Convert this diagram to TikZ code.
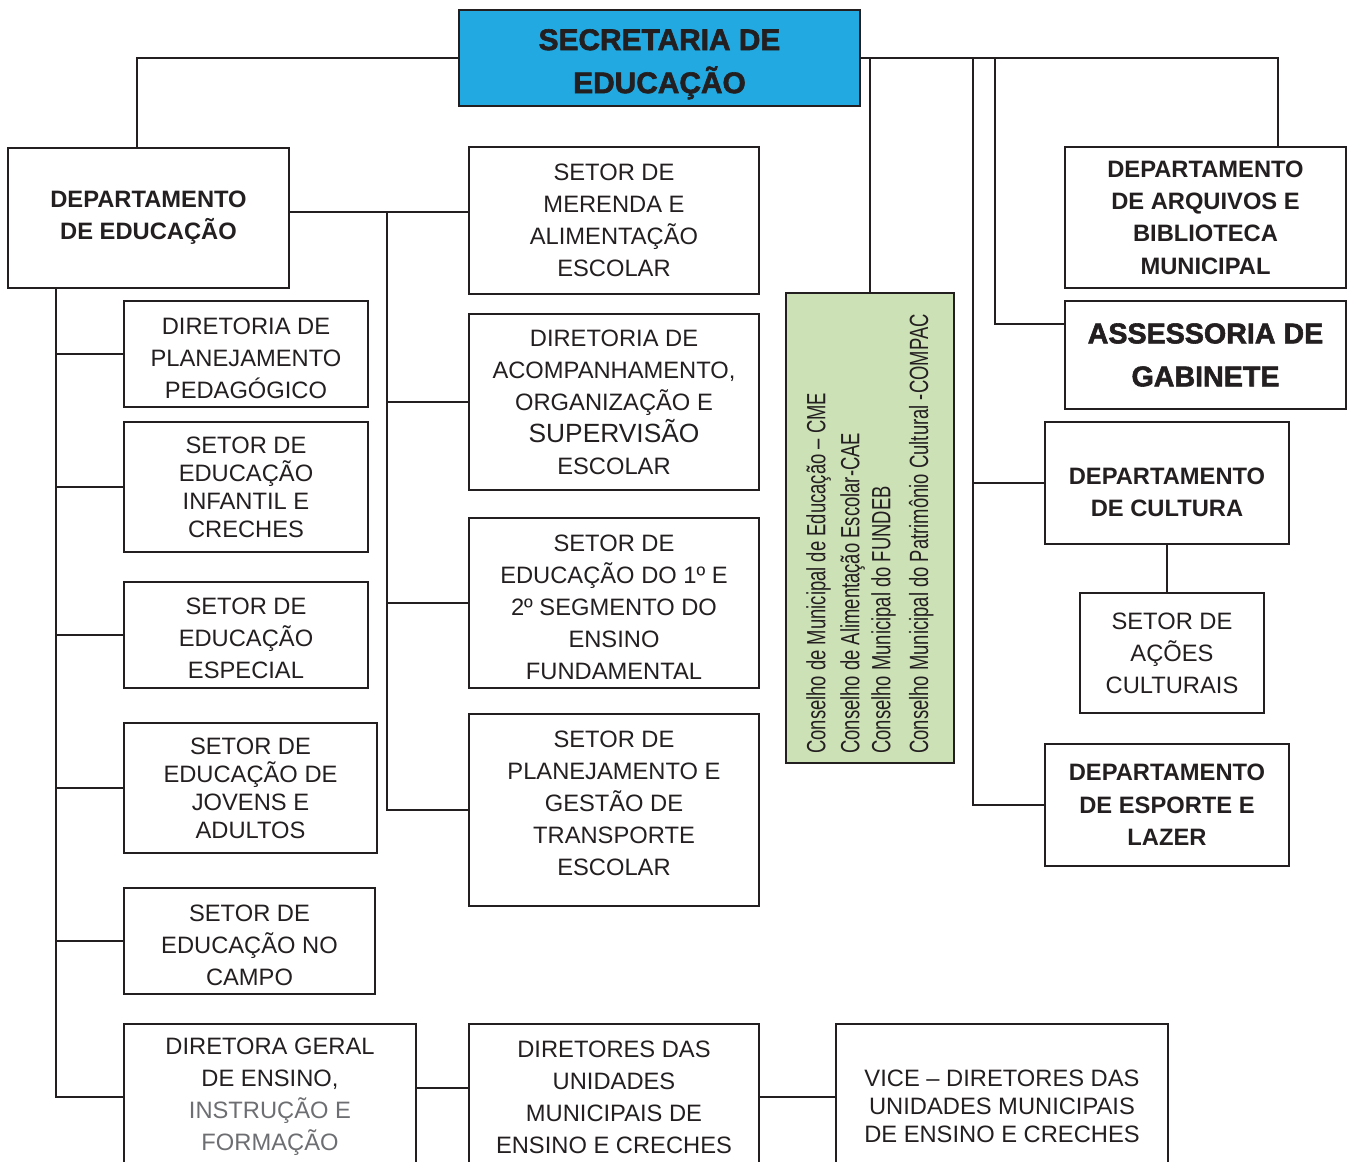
\documentclass[tikz,border=0pt]{standalone}
\usepackage{fontspec}
\setmainfont{Liberation Sans}
\newfontfamily\heavyfont[FakeBold=2]{Liberation Sans Bold}
\newfontfamily\narrowfont[FakeStretch=0.70]{Liberation Sans}
\definecolor{ink}{HTML}{231F20}
\definecolor{secblue}{HTML}{22A9E1}
\definecolor{consgreen}{HTML}{CDE1B6}
\definecolor{softgray}{HTML}{6D6E71}
\begin{document}
\begin{tikzpicture}[x=0.02cm, y=-0.02cm, line width=1pt, color=ink,
    every node/.style={draw=ink, line width=1pt, rectangle, align=center, inner sep=0pt, text=ink},
    regular/.style={font=\fontsize{13.5}{18.2}\selectfont},
    tight/.style={font=\fontsize{13.5}{15.9}\selectfont},
    dept/.style={font=\fontsize{13.5}{18.4}\selectfont\bfseries},
    heavy/.style={font=\fontsize{17}{24.5}\selectfont\heavyfont}]
    \clip (0,0) rectangle (1349,1162);

    % Nodes
    \node[heavy, fill=secblue, minimum width=8.02cm, minimum height=1.92cm] at (659.5, 58) (sec) {\rule{0pt}{19pt}SECRETARIA DE\\ EDUCAÇÃO};

    \node[dept, minimum width=5.62cm, minimum height=2.8cm] at (148.5, 218) (depEdu) {DEPARTAMENTO\\ DE EDUCAÇÃO};
    \node[regular, minimum width=4.88cm, minimum height=2.12cm] at (246, 354) (plan) {\rule{0pt}{14pt}DIRETORIA DE\\ PLANEJAMENTO\\ PEDAGÓGICO};
    \node[tight, minimum width=4.88cm, minimum height=2.6cm] at (246, 487) (inf) {SETOR DE\\ EDUCAÇÃO\\ INFANTIL E\\ CRECHES};
    \node[regular, minimum width=4.88cm, minimum height=2.12cm] at (246, 635) (espec) {\rule{0pt}{13pt}SETOR DE\\ EDUCAÇÃO\\ ESPECIAL};
    \node[tight, minimum width=5.06cm, minimum height=2.6cm] at (250.5, 788) (jov) {SETOR DE\\ EDUCAÇÃO DE\\ JOVENS E\\ ADULTOS};
    \node[regular, minimum width=5.02cm, minimum height=2.12cm] at (249.5, 941) (campo) {\rule{0pt}{14pt}SETOR DE\\ EDUCAÇÃO NO\\ CAMPO};
    \node[regular, minimum width=5.84cm, minimum height=2.92cm] at (270, 1097) (geral) {DIRETORA GERAL\\ DE ENSINO,\\ {\color{softgray}INSTRUÇÃO E}\\ {\color{softgray}FORMAÇÃO}};

    \node[regular, minimum width=5.8cm, minimum height=2.94cm] at (614, 220.5) (mer) {SETOR DE\\ MERENDA E\\ ALIMENTAÇÃO\\ ESCOLAR};
    \node[regular, minimum width=5.8cm, minimum height=3.52cm] at (614, 402) (acomp) {DIRETORIA DE\\ ACOMPANHAMENTO,\\ ORGANIZAÇÃO E\\ {\fontsize{15}{18.2}\selectfont SUPERVISÃO}\\ ESCOLAR};
    \node[regular, minimum width=5.8cm, minimum height=3.4cm] at (614, 603) (fund) {\rule{0pt}{14pt}SETOR DE\\ EDUCAÇÃO DO 1º E\\ 2º SEGMENTO DO\\ ENSINO\\ FUNDAMENTAL};
    \node[regular, minimum width=5.8cm, minimum height=3.84cm] at (614, 810) (transp) {SETOR DE\\ PLANEJAMENTO E\\ GESTÃO DE\\ TRANSPORTE\\ ESCOLAR\rule[-8pt]{0pt}{0pt}};
    \node[regular, minimum width=5.8cm, minimum height=2.92cm] at (614, 1097) (dir) {DIRETORES DAS\\ UNIDADES\\ MUNICIPAIS DE\\ ENSINO E CRECHES};
    \node[tight, minimum width=6.64cm, minimum height=3.28cm] at (1002, 1106) (vice) {VICE – DIRETORES DAS\\ UNIDADES MUNICIPAIS\\ DE ENSINO E CRECHES};

    \node[fill=consgreen, minimum width=3.36cm, minimum height=9.4cm] at (870, 528) (cons) {};
    \node[draw=none, rotate=90, align=left, font=\fontsize{15}{17.6}\narrowfont] at ([yshift=-0.12cm]cons.center) (consText)
        {Conselho de Municipal de Educação – CME\\[1.7pt] Conselho de Alimentação Escolar-CAE\\[0pt]
         Conselho Municipal do FUNDEB\\[4pt] Conselho Municipal do Patrimônio Cultural -COMPAC};

    \node[dept, minimum width=5.62cm, minimum height=2.82cm] at (1205.5, 217.5) (arq) {DEPARTAMENTO\\ DE ARQUIVOS E\\ BIBLIOTECA\\ MUNICIPAL};
    \node[font=\fontsize{16.3}{24.5}\selectfont\heavyfont, minimum width=5.62cm, minimum height=2.16cm] at (1205.5, 355) (ass) {ASSESSORIA DE\\ GABINETE};
    \node[dept, minimum width=4.88cm, minimum height=2.44cm] at (1167, 483) (cult) {\rule{0pt}{20pt}DEPARTAMENTO\\ DE CULTURA};
    \node[regular, minimum width=3.68cm, minimum height=2.4cm] at (1172, 653) (acoes) {SETOR DE\\ AÇÕES\\ CULTURAIS};
    \node[dept, minimum width=4.88cm, minimum height=2.44cm] at (1167, 805) (esporte) {DEPARTAMENTO\\ DE ESPORTE E\\ LAZER};

    % Edges
    \draw (sec.west) -| ([xshift=-0.23cm]depEdu.north);
    \draw (sec.east) -| ([xshift=1.45cm]arq.north);
    \draw (cons.north) |- (sec.east);
    \draw ([yshift=0.62cm]ass.west) -- ++(-69,0) |- (sec.east);
    \draw (esporte.west) -- ++(-71,0) |- (sec.east);
    \draw (cult.west) -- ++(-71,0);
    \draw (cult.south) -- (cult.south |- acoes.north);

    \coordinate (dj) at ([yshift=0.12cm]depEdu.east);
    \draw (dj) -- (dj -| mer.west);
    \draw (transp.west) -- ++(-81,0) |- (dj);
    \draw (acomp.west) -- ++(-81,0);
    \draw (fund.west) -- ++(-81,0);

    \draw (geral.west) -| ([xshift=-1.85cm]depEdu.south);
    \draw (plan.west) -- ++(-68,0);
    \draw (inf.west) -- ++(-68,0);
    \draw (espec.west) -- ++(-68,0);
    \draw (jov.west) -- ++(-68,0);
    \draw (campo.west) -- ++(-68,0);

    \draw ([yshift=0.18cm]geral.east) -- ([yshift=0.18cm]dir.west);
    \draw (dir.east) -- (dir.east -| vice.west);
\end{tikzpicture}
\end{document}
